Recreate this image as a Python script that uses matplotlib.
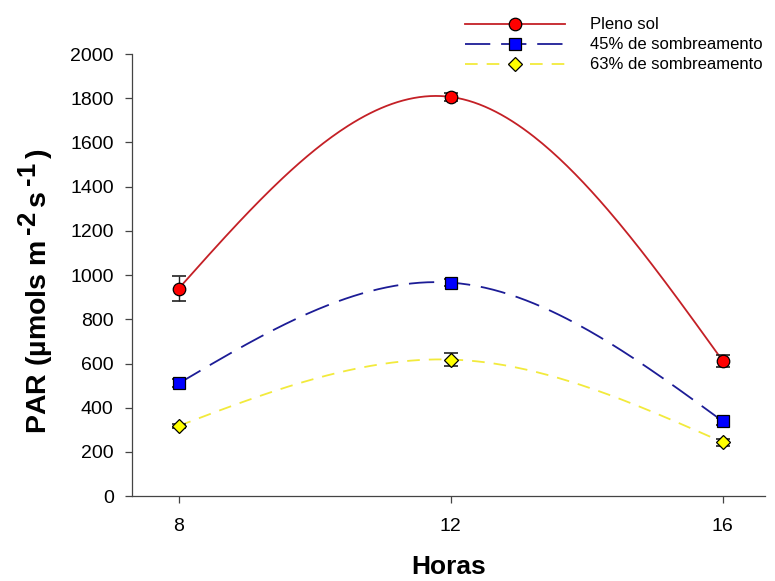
import numpy as np
import matplotlib
matplotlib.use("Agg")
import matplotlib.pyplot as plt
from matplotlib.lines import Line2D
import matplotlib._mathtext as _mt

plt.rcParams['font.family'] = ['Liberation Sans', 'DejaVu Sans']
plt.rcParams['mathtext.fontset'] = 'custom'
plt.rcParams['mathtext.rm'] = 'Liberation Sans:bold'
plt.rcParams['mathtext.default'] = 'rm'
_mt.SHRINK_FACTOR = 0.9

# Data
horas = [8, 12, 16]
pleno_sol = [939, 1806, 612]
pleno_sol_err = [55, 18, 28]
sombra45 = [510, 966, 339]
sombra45_err = [18, 15, 15]
sombra63 = [318, 618, 244]
sombra63_err = [10, 28, 15]
labels = ["Pleno sol", "45% de sombreamento", "63% de sombreamento"]


def natural_spline(x, y, n=200):
    x = np.asarray(x, float)
    y = np.asarray(y, float)
    k = len(x)
    h = np.diff(x)
    A = np.zeros((k, k))
    r = np.zeros(k)
    A[0, 0] = 1
    A[-1, -1] = 1
    for i in range(1, k - 1):
        A[i, i - 1] = h[i - 1] / 6
        A[i, i] = (h[i - 1] + h[i]) / 3
        A[i, i + 1] = h[i] / 6
        r[i] = (y[i + 1] - y[i]) / h[i] - (y[i] - y[i - 1]) / h[i - 1]
    M = np.linalg.solve(A, r)
    xs = np.linspace(x[0], x[-1], n)
    ys = np.empty_like(xs)
    for j, xv in enumerate(xs):
        i = min(np.searchsorted(x, xv, side='right') - 1, k - 2)
        hi = h[i]
        a = x[i + 1] - xv
        b = xv - x[i]
        ys[j] = (M[i] * a**3 / (6 * hi) + M[i + 1] * b**3 / (6 * hi)
                 + (y[i] / hi - M[i] * hi / 6) * a
                 + (y[i + 1] / hi - M[i + 1] * hi / 6) * b)
    return xs, ys


fig = plt.figure(figsize=(7.75, 5.81), dpi=100)
ax = fig.add_axes([0.170, 0.146, 0.817, 0.761])

styles = [
    dict(color='#c42026', mfc='#ff0000', marker='o', ms=9, dashes=None),
    dict(color='#1c1c96', mfc='#0000ff', marker='s', ms=8.5, dashes=(14, 6)),
    dict(color='#f2ea3c', mfc='#ffff00', marker='D', ms=7.5, dashes=(7, 5)),
]
series = [(pleno_sol, pleno_sol_err), (sombra45, sombra45_err), (sombra63, sombra63_err)]

handles = []
for (vals, errs), st, lab in zip(series, styles, labels):
    xs, ys = natural_spline(horas, vals)
    ln, = ax.plot(xs, ys, color=st['color'], lw=1.3, zorder=2)
    if st['dashes']:
        ln.set_dashes(st['dashes'])
    ax.errorbar(horas, vals, yerr=errs, fmt='none', ecolor='#222222',
                elinewidth=1.0, capsize=5, capthick=1.2, zorder=3)
    ax.plot(horas, vals, linestyle='none', marker=st['marker'], ms=st['ms'],
            mfc=st['mfc'], mec='black', mew=0.9, zorder=4)
    h = Line2D([0], [0], color=st['color'], lw=1.3, marker=st['marker'],
               ms=st['ms'], mfc=st['mfc'], mec='black', mew=0.9)
    if st['dashes']:
        h.set_dashes(st['dashes'])
    handles.append(h)

ax.set_xlim(7.31, 16.62)
ax.set_ylim(0, 2000)
ax.set_xticks(horas)
ax.set_yticks(np.arange(0, 2001, 200))
ax.spines['top'].set_visible(False)
ax.spines['right'].set_visible(False)
for s in ['left', 'bottom']:
    ax.spines[s].set_color('#444444')
    ax.spines[s].set_linewidth(0.9)
ax.tick_params(direction='out', length=5, width=0.9, color='#444444',
               labelsize=14)
ax.tick_params(axis='y', pad=8)
ax.tick_params(axis='x', pad=11)

ax.set_xlabel('Horas', fontsize=19, fontweight='bold', labelpad=14)
ax.set_ylabel(r'PAR (µmols m$\,^{\text{-}2}\,$s$\,^{\text{-}1}\,$)', fontsize=20.5,
              fontweight='bold')
ax.yaxis.set_label_coords(-0.119, 0.465)

leg = fig.legend(handles, labels, loc='upper left',
                 bbox_to_anchor=(462 / 775, 1 - 14 / 581),
                 frameon=False, fontsize=12, handlelength=6.0,
                 handletextpad=1.5, labelspacing=0.3, borderaxespad=0,
                 borderpad=0.2, numpoints=1)

fig.savefig('out.png', dpi=100)
